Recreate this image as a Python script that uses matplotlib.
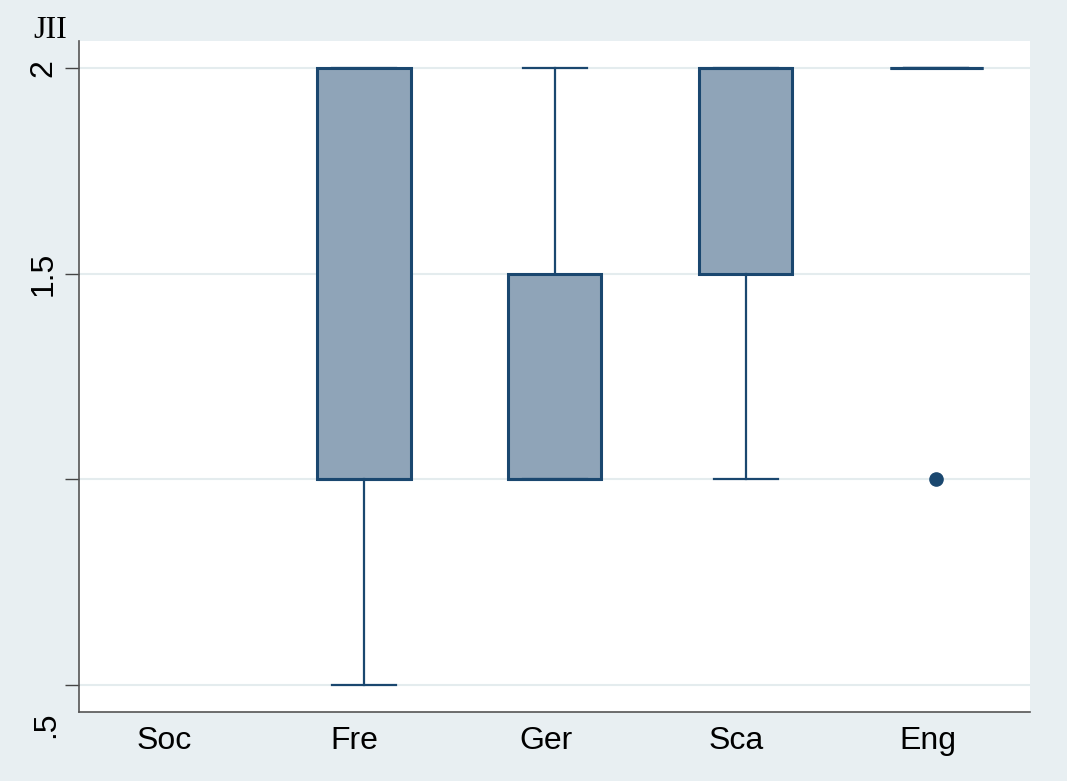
import matplotlib
matplotlib.use("Agg")
import matplotlib.pyplot as plt
from matplotlib.transforms import ScaledTranslation

groups = ["Soc", "Fre", "Ger", "Sca", "Eng"]
# box statistics (Soc has no data)
q1 = [None, 1.0, 1.0, 1.5, 2.0]
med = [None, 1.0, 1.0, 2.0, 2.0]
q3 = [None, 2.0, 1.5, 2.0, 2.0]
whislo = [None, 0.5, 1.0, 1.0, 2.0]
whishi = [None, 2.0, 2.0, 2.0, 2.0]
fliers = [[], [], [], [], [1.0]]
yticks = [0.5, 1.0, 1.5, 2.0]
yticklabels = ["", "", "1.5", "2"]

navy = "#1a476f"
fill = "#8fa4b8"
bg = "#e8eff2"

fig = plt.figure(figsize=(10.67, 7.81), dpi=100, facecolor=bg)
ax = fig.add_axes([79 / 1067, 1 - 712 / 781, (1030 - 79) / 1067, (712 - 41) / 781])
ax.set_facecolor("white")

stats = []
pos = []
for i, g in enumerate(groups):
    if q1[i] is None:
        continue
    stats.append(dict(q1=q1[i], med=med[i], q3=q3[i], whislo=whislo[i],
                      whishi=whishi[i], fliers=fliers[i], label=g))
    pos.append(i + 1)

ax.bxp(stats, positions=pos, widths=0.49, patch_artist=True, showcaps=True,
       capwidths=0.335,
       boxprops=dict(facecolor=fill, edgecolor=navy, linewidth=2.2),
       medianprops=dict(color=navy, linewidth=2.2),
       whiskerprops=dict(color=navy, linewidth=1.6),
       capprops=dict(color=navy, linewidth=1.6),
       flierprops=dict(marker="o", markerfacecolor=navy, markeredgecolor=navy,
                       markersize=9.5))

ax.set_xlim(0.508, 5.49)
ax.set_ylim(0.434, 2.066)
ax.set_xticks(range(1, len(groups) + 1))
ax.set_xticklabels(groups, fontsize=23, family="Liberation Sans")
ax.tick_params(axis="x", length=0, pad=10)
shift = ScaledTranslation(-9 / 100, 0, fig.dpi_scale_trans)
for lab in ax.get_xticklabels():
    lab.set_transform(lab.get_transform() + shift)
ax.set_yticks(yticks)
ax.set_yticklabels(yticklabels, rotation=90, va="center", fontsize=23,
                   family="Liberation Sans")
ax.tick_params(axis="y", length=10, width=1, color="#444444", pad=5)
ax.yaxis.grid(True, color="#e4ecee", linewidth=1.5)
ax.set_axisbelow(True)

for s in ["top", "right"]:
    ax.spines[s].set_visible(False)
for s in ["left", "bottom"]:
    ax.spines[s].set_color("#555555")
    ax.spines[s].set_linewidth(1.2)

# the lowest label sits below the axis in the reference
fig.text(46 / 1067, 1 - 725 / 781, ".5", rotation=90, ha="center", va="center",
         fontsize=23, family="Liberation Sans")
fig.text(50 / 1067, 1 - 30 / 781, "JII", ha="center", va="center",
         fontsize=23, family="Liberation Serif")

fig.savefig("out.png", dpi=100, facecolor=bg)
